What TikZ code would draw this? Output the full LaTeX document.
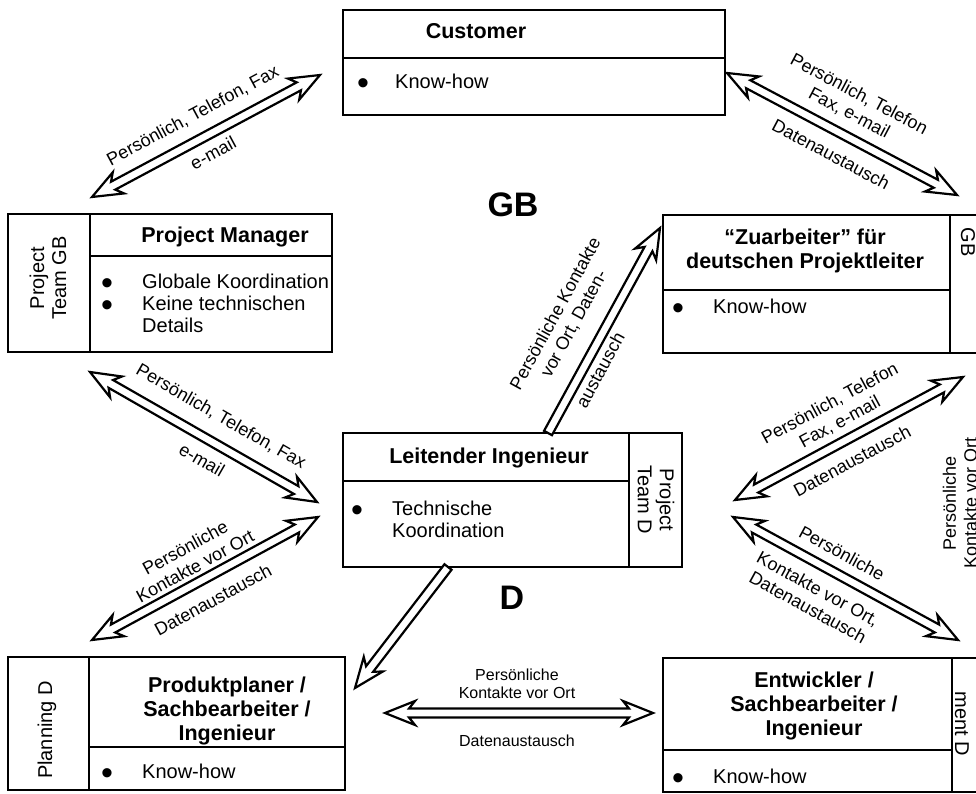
\documentclass[tikz,border=0pt]{standalone}
\usepackage{fontspec}
\setmainfont{Liberation Sans}
\usetikzlibrary{calc}

\newcommand\headfont{\fontsize{21.5}{24}\selectfont\bfseries}
\newcommand\itemfont{\fontsize{20}{22}\selectfont}
\newcommand\lblfont{\fontsize{18}{21}\selectfont}
\newcommand\smlblfont{\fontsize{16}{18.5}\selectfont}
\newcommand\regionfont{\fontsize{34}{36}\selectfont\bfseries}
\newcommand\bul{\smash{\raisebox{-6pt}{\fontsize{34}{22}\selectfont\textbullet}}}

% sizes of the hollow arrows
\newcommand\headlen{30pt}
\newcommand\neck{24pt}
\newcommand\headwid{12pt}
\newcommand\shaftwid{4.5pt}

% hollow arrow with two heads
\newcommand\dblarrow[2]{%
  \draw[blockarrow] (#1)
    -- ($(#1)!\headlen!(#2)!\headwid!90:(#2)$)
    -- ($(#1)!\neck!(#2)!\shaftwid!90:(#2)$)
    -- ($(#2)!\neck!(#1)!\shaftwid!-90:(#1)$)
    -- ($(#2)!\headlen!(#1)!\headwid!-90:(#1)$)
    -- (#2)
    -- ($(#2)!\headlen!(#1)!\headwid!90:(#1)$)
    -- ($(#2)!\neck!(#1)!\shaftwid!90:(#1)$)
    -- ($(#1)!\neck!(#2)!\shaftwid!-90:(#2)$)
    -- ($(#1)!\headlen!(#2)!\headwid!-90:(#2)$)
    -- cycle;}

% hollow arrow with one head
\newcommand\onearrow[2]{%
  \draw[blockarrow] ($(#1)!\shaftwid!90:(#2)$)
    -- ($(#2)!\neck!(#1)!\shaftwid!-90:(#1)$)
    -- ($(#2)!\headlen!(#1)!\headwid!-90:(#1)$)
    -- (#2)
    -- ($(#2)!\headlen!(#1)!\headwid!90:(#1)$)
    -- ($(#2)!\neck!(#1)!\shaftwid!90:(#1)$)
    -- ($(#1)!\shaftwid!-90:(#2)$)
    -- cycle;}

\tikzset{
  cell/.style={draw, line width=1.9pt, inner sep=0pt, outer sep=0pt, anchor=north west},
  head/.style={font=\headfont, align=center, inner sep=0pt, anchor=base},
  items/.style={font=\itemfont, inner sep=0pt, anchor=base west},
  side/.style={font=\itemfont, align=center, inner sep=0pt},
  lbl/.style={font=\lblfont, align=center, inner sep=0pt},
  smlbl/.style={font=\smlblfont, align=center, inner sep=0pt},
  region/.style={font=\regionfont, inner sep=0pt},
  blockarrow/.style={draw, line width=2.2pt, fill=white, line join=miter}
}

\begin{document}
\begin{tikzpicture}[x=1pt, y=-1pt]
    \useasboundingbox (0,0) rectangle (976,794);
    \clip (0,0) rectangle (976,794);

    % Customer
    \node[cell, minimum width=382pt, minimum height=48pt] (custhead) at (343,10) {};
    \node[cell, minimum width=382pt, minimum height=57pt] (custbody) at (343,58) {};
    \node[head] (custname) at (476,39) {Customer};
    \node[items] (custitems) at (357,89) {\begin{tabular}[t]{@{}p{38pt}@{}l@{}}\bul & Know-how\end{tabular}};

    % Project Manager, team GB
    \node[cell, minimum width=82pt, minimum height=138pt] (pmside) at (8,214) {};
    \node[cell, minimum width=242pt, minimum height=42pt] (pmhead) at (90,214) {};
    \node[cell, minimum width=242pt, minimum height=96pt] (pmbody) at (90,256) {};
    \node[head] (pmname) at (225,242) {Project Manager};
    \node[items] (pmitems) at (101,288) {\begin{tabular}[t]{@{}p{41pt}@{}l@{}}\bul & Globale Koordination\\ \bul & Keine technischen\\ & Details\end{tabular}};
    \node[side, rotate=90] (pmteam) at (48,278) {Project\\Team GB};

    % Zuarbeiter
    \node[cell, minimum width=287pt, minimum height=75pt] (zuhead) at (663,215) {};
    \node[cell, minimum width=287pt, minimum height=63pt] (zubody) at (663,290) {};
    \node[cell, minimum width=60pt, minimum height=138pt] (zuside) at (950,215) {};
    \node[head] (zuname) at (805,268) {“Zuarbeiter” für\\deutschen Projektleiter};
    \node[items] (zuitems) at (672,313) {\begin{tabular}[t]{@{}p{41pt}@{}l@{}}\bul & Know-how\end{tabular}};
    \node[side, rotate=-90] (zuteam) at (968,242) {GB};

    % Leitender Ingenieur, team D
    \node[cell, minimum width=286pt, minimum height=48pt] (lthead) at (343,433) {};
    \node[cell, minimum width=286pt, minimum height=86pt] (ltbody) at (343,481) {};
    \node[cell, minimum width=53pt, minimum height=134pt] (ltside) at (629,433) {};
    \node[head] (ltname) at (489,463) {Leitender Ingenieur};
    \node[items] (ltitems) at (351,515) {\begin{tabular}[t]{@{}p{41pt}@{}l@{}}\bul & Technische\\ & Koordination\end{tabular}};
    \node[side, rotate=-90] (ltteam) at (656,500) {Project\\Team D};

    % Produktplaner, planning D
    \node[cell, minimum width=81pt, minimum height=133pt] (plside) at (8,657) {};
    \node[cell, minimum width=256pt, minimum height=90pt] (plhead) at (89,657) {};
    \node[cell, minimum width=256pt, minimum height=43pt] (plbody) at (89,747) {};
    \node[head] (plname) at (227,740) {Produktplaner /\\Sachbearbeiter /\\Ingenieur};
    \node[items] (plitems) at (101,778) {\begin{tabular}[t]{@{}p{41pt}@{}l@{}}\bul & Know-how\end{tabular}};
    \node[side, rotate=90] (plteam) at (47,730) {Planning D};

    % Entwickler
    \node[cell, minimum width=289pt, minimum height=92pt] (enhead) at (663,658) {};
    \node[cell, minimum width=289pt, minimum height=42pt] (enbody) at (663,750) {};
    \node[cell, minimum width=60pt, minimum height=134pt] (enside) at (952,658) {};
    \node[head] (enname) at (814,735) {Entwickler /\\Sachbearbeiter /\\Ingenieur};
    \node[items] (enitems) at (672,783) {\begin{tabular}[t]{@{}p{41pt}@{}l@{}}\bul & Know-how\end{tabular}};
    \node[side, rotate=-90] (enteam) at (962,724) {ment D};

    % Country labels
    \node[region] (gb) at (513,205) {GB};
    \node[region] (de) at (512,598) {D};

    % Arrow ends
    \coordinate (a1s) at (92,197);  \coordinate (a1e) at (320,75);
    \coordinate (a2s) at (727,73);  \coordinate (a2e) at (957,195);
    \coordinate (a3s) at (90,372);  \coordinate (a3e) at (317,502);
    \coordinate (a4s) at (92,640);  \coordinate (a4e) at (318,517);
    \coordinate (a5s) at (735,500); \coordinate (a5e) at (963,377);
    \coordinate (a6s) at (733,517); \coordinate (a6e) at (958,640);
    \coordinate (a7s) at (548,433); \coordinate (a7e) at (660,228);
    \coordinate (a8s) at (448,567); \coordinate (a8e) at (355,688);
    \coordinate (a9s) at (385,713); \coordinate (a9e) at (653,713);

    % Arrows
    \dblarrow{a1s}{a1e}
    \dblarrow{a2s}{a2e}
    \dblarrow{a3s}{a3e}
    \dblarrow{a4s}{a4e}
    \dblarrow{a5s}{a5e}
    \dblarrow{a6s}{a6e}
    \onearrow{a7s}{a7e}
    \onearrow{a8s}{a8e}
    \dblarrow{a9s}{a9e}

    % Arrow labels
    \node[lbl, rotate=28.2] (l1a) at (193,116) {Persönlich, Telefon, Fax};
    \node[lbl, rotate=28.2] (l1b) at (213,153) {e-mail};
    \node[lbl, rotate=-27.9] (l2a) at (854,104) {Persönlich, Telefon\\Fax, e-mail};
    \node[lbl, rotate=-27.9] (l2b) at (831,154) {Datenaustausch};
    \node[lbl, rotate=-29.8] (l3a) at (221,417) {Persönlich, Telefon, Fax};
    \node[lbl, rotate=-29.8] (l3b) at (202,460) {e-mail};
    \node[lbl, rotate=28.6] (l4a) at (190,557) {Persönliche\\Kontakte vor Ort};
    \node[lbl, rotate=28.6] (l4b) at (213,600) {Datenaustausch};
    \node[lbl, rotate=28.3] (l5a) at (835,413) {Persönlich, Telefon\\Fax, e-mail};
    \node[lbl, rotate=28.3] (l5b) at (852,461) {Datenaustausch};
    \node[lbl, rotate=-28.7] (l6a) at (842,553) {Persönliche};
    \node[lbl, rotate=-28.7] (l6b) at (813,598) {Kontakte vor Ort,\\Datenaustausch};
    \node[lbl, rotate=61.4] (l7a) at (565,319) {Persönliche Kontakte\\vor Ort, Daten-};
    \node[lbl, rotate=61.4] (l7b) at (600,370) {austausch};
    \node[smlbl] (l9a) at (517,684) {Persönliche\\Kontakte vor Ort};
    \node[smlbl] (l9b) at (517,741) {Datenaustausch};
    \node[lbl, rotate=90] (rlbl) at (960,503) {Persönliche\\Kontakte vor Ort};
\end{tikzpicture}
\end{document}
